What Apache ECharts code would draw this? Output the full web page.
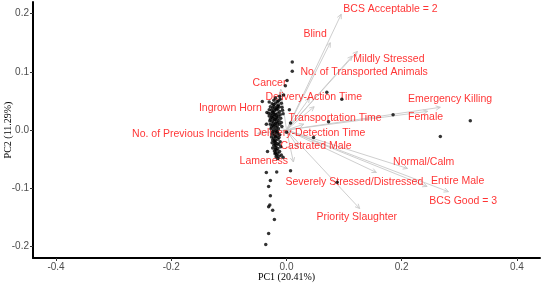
<!DOCTYPE html>
<html>
<head>
<meta charset="utf-8">
<script src="https://cdn.jsdelivr.net/npm/echarts@6/dist/echarts.min.js"></script>
<style>
  html, body { margin: 0; padding: 0; background: #fff; }
  #main { width: 542px; height: 285px; }
</style>
</head>
<body>
<div id="main"></div>
<script>
// PCA biplot: PC1 vs PC2

// tick labels
var xTicks = [-0.4, -0.2, 0.0, 0.2, 0.4];
var yTicks = [-0.2, -0.1, 0.0, 0.1, 0.2];

// loading vectors (arrow tips)
var varNames = ['BCS Acceptable = 2', 'Blind', 'Mildly Stressed', 'No. of Transported Animals',
  'Cancer', 'Delivery-Action Time', 'Ingrown Horn', 'Transportation Time',
  'Emergency Killing', 'Female', 'No. of Previous Incidents', 'Delivery-Detection Time',
  'Castrated Male', 'Lameness', 'Normal/Calm', 'Severely Stressed/Distressed',
  'Entire Male', 'BCS Good = 3', 'Priority Slaughter'];
var loadX = [0.095, 0.076, 0.123, 0.114, -0.010, 0.040, -0.035, 0.048,
  0.267, 0.245, -0.050, 0.030, 0.020, 0.012, 0.210, 0.156,
  0.244, 0.281, 0.127];
var loadY = [0.199, 0.150, 0.135, 0.127, 0.070, 0.055, 0.012, 0.040,
  0.039, 0.032, -0.006, 0.010, -0.030, -0.055, -0.066, -0.073,
  -0.097, -0.106, -0.135];

// where the red labels sit (left edge, middle)
var labelX = [0.0987, 0.0294, 0.116, 0.0242, -0.0589, -0.0364, -0.152, 0.0035,
  0.211, 0.211, -0.268, -0.057, -0.0104, -0.0814, 0.185, -0.0017,
  0.251, 0.2476, 0.052];
var labelY = [0.207, 0.164, 0.121, 0.0987, 0.0798, 0.0557, 0.0368, 0.0196,
  0.0523, 0.0213, -0.007, -0.0053, -0.0285, -0.0543, -0.056, -0.0904,
  -0.087, -0.1214, -0.149];

// individual scores
var scores = [
  [0.010, 0.117], [0.010, 0.101], [0.001, 0.085], [-0.002, 0.076], [0.070, 0.065],
  [0.096, 0.053], [0.005, 0.035], [0.185, 0.026], [0.319, 0.016], [0.073, 0.014],
  [0.267, -0.011], [0.047, -0.013], [0.000, -0.004], [0.007, -0.070], [-0.017, -0.072],
  [-0.035, -0.073], [-0.028, -0.087], [-0.031, -0.097], [-0.028, -0.113], [-0.031, -0.132],
  [-0.029, -0.129], [-0.024, -0.138], [-0.021, -0.154], [-0.031, -0.178], [-0.036, -0.197],
  [0.088, -0.090], [-0.042, 0.049], [-0.033, -0.037], [-0.019, -0.039], [0.007, 0.012],
  [-0.005, 0.060], [-0.012, 0.058], [-0.030, 0.048], [-0.034, 0.030], [-0.035, 0.010],
  [-0.022, 0.051], [-0.016, 0.049], [-0.011, 0.053], [-0.019, 0.055], [-0.014, 0.050],
  [-0.025, 0.045], [-0.019, 0.046], [-0.014, 0.043], [-0.009, 0.046], [-0.022, 0.044], [-0.016, 0.041],
  [-0.028, 0.040], [-0.022, 0.041], [-0.018, 0.038], [-0.013, 0.040], [-0.008, 0.039], [-0.020, 0.036], [-0.024, 0.038],
  [-0.030, 0.035], [-0.026, 0.034], [-0.021, 0.033], [-0.017, 0.035], [-0.012, 0.032], [-0.007, 0.034], [-0.024, 0.031], [-0.015, 0.037],
  [-0.031, 0.029], [-0.027, 0.028], [-0.023, 0.030], [-0.019, 0.027], [-0.015, 0.029], [-0.011, 0.026], [-0.006, 0.028], [-0.025, 0.025], [-0.017, 0.024], [-0.021, 0.027],
  [-0.030, 0.024], [-0.026, 0.022], [-0.022, 0.023], [-0.018, 0.021], [-0.014, 0.023], [-0.010, 0.020], [-0.028, 0.019], [-0.020, 0.018], [-0.016, 0.019], [-0.024, 0.020],
  [-0.029, 0.016], [-0.025, 0.015], [-0.021, 0.017], [-0.017, 0.014], [-0.013, 0.016], [-0.009, 0.013], [-0.023, 0.012], [-0.019, 0.011], [-0.015, 0.012],
  [-0.028, 0.010], [-0.024, 0.008], [-0.020, 0.009], [-0.016, 0.007], [-0.012, 0.010], [-0.026, 0.005], [-0.018, 0.004], [-0.008, 0.006], [-0.022, 0.006],
  [-0.027, 0.002], [-0.022, 0.001], [-0.018, -0.001], [-0.014, 0.002], [-0.024, -0.003], [-0.020, -0.004], [-0.016, -0.003],
  [-0.025, -0.007], [-0.021, -0.009], [-0.016, -0.006], [-0.012, -0.008], [-0.019, -0.012],
  [-0.026, -0.012], [-0.022, -0.014], [-0.017, -0.011], [-0.013, -0.013],
  [-0.024, -0.017], [-0.019, -0.018], [-0.015, -0.016], [-0.021, -0.019],
  [-0.025, -0.022], [-0.020, -0.021], [-0.016, -0.023], [-0.011, -0.020],
  [-0.022, -0.026], [-0.018, -0.027], [-0.013, -0.025], [-0.020, -0.024],
  [-0.024, -0.031], [-0.019, -0.030], [-0.015, -0.032], [-0.010, -0.029],
  [-0.021, -0.036], [-0.017, -0.035], [-0.012, -0.037], [-0.019, -0.033],
  [-0.020, -0.041], [-0.015, -0.040], [-0.009, -0.043], [-0.017, -0.043],
  [-0.018, -0.046], [-0.013, -0.045], [-0.006, -0.047], [-0.015, -0.049]
];

var arrowData = [];
var labelData = [];
for (var i = 0; i < varNames.length; i++) {
  arrowData.push([loadX[i], loadY[i]]);
  labelData.push({ name: varNames[i], value: [labelX[i], labelY[i]] });
}

// arrow from origin with open head
function renderArrow(params, api) {
  var p0 = api.coord([0, 0]);
  var p1 = api.coord([api.value(0), api.value(1)]);
  var ang = Math.atan2(p1[1] - p0[1], p1[0] - p0[0]);
  var h = 5, w = 0.45;
  var a1 = [p1[0] - h * Math.cos(ang - w), p1[1] - h * Math.sin(ang - w)];
  var a2 = [p1[0] - h * Math.cos(ang + w), p1[1] - h * Math.sin(ang + w)];
  var st = { stroke: '#c8c8c8', lineWidth: 0.9, fill: null };
  return {
    type: 'group',
    children: [
      { type: 'line', shape: { x1: p0[0], y1: p0[1], x2: p1[0], y2: p1[1] }, style: st },
      { type: 'polyline', shape: { points: [a1, p1, a2] }, style: st }
    ]
  };
}

var chart = echarts.init(document.getElementById('main'));

var option = {
  animation: false,
  grid: { left: 33, right: 2, top: 2, bottom: 27, containLabel: false, outerBoundsMode: 'none' },
  xAxis: {
    type: 'value',
    min: -0.44,
    max: 0.44,
    name: 'PC1 (20.41%)',
    nameLocation: 'middle',
    nameGap: 14,
    nameMoveOverlap: false,
    nameTextStyle: { fontFamily: 'Liberation Serif', fontSize: 10, color: '#000' },
    splitLine: { show: false },
    axisLine: { onZero: false, lineStyle: { color: '#000', width: 2 } },
    axisTick: { customValues: xTicks, length: 3, lineStyle: { color: '#333' } },
    axisLabel: {
      customValues: xTicks, margin: 4,
      fontFamily: 'Liberation Sans', fontSize: 10, color: '#4d4d4d',
      formatter: function (v) { return v.toFixed(1); }
    }
  },
  yAxis: {
    type: 'value',
    min: -0.22,
    max: 0.22,
    name: 'PC2 (11.29%)',
    nameLocation: 'middle',
    nameGap: 20,
    nameMoveOverlap: false,
    nameTextStyle: { fontFamily: 'Liberation Serif', fontSize: 10, color: '#000' },
    splitLine: { show: false },
    axisLine: { onZero: false, lineStyle: { color: '#000', width: 2 } },
    axisTick: { customValues: yTicks, length: 3, lineStyle: { color: '#333' } },
    axisLabel: {
      customValues: yTicks, margin: 4,
      fontFamily: 'Liberation Sans', fontSize: 10, color: '#4d4d4d',
      formatter: function (v) { return v.toFixed(1); }
    }
  },
  series: [
    {
      name: 'loadings',
      type: 'custom',
      renderItem: renderArrow,
      data: arrowData,
      z: 1,
      silent: true
    },
    {
      name: 'scores',
      type: 'scatter',
      symbol: 'circle',
      symbolSize: 3.5,
      itemStyle: { color: '#000' },
      data: scores,
      z: 3
    },
    {
      name: 'labels',
      type: 'scatter',
      symbolSize: 0,
      data: labelData,
      z: 2,
      silent: true,
      label: {
        show: true,
        position: 'right',
        distance: 0,
        formatter: '{b}',
        fontFamily: 'Liberation Sans',
        fontSize: 10.5,
        color: '#ff0000'
      }
    }
  ]
};

chart.setOption(option);
</script>
</body>
</html>
